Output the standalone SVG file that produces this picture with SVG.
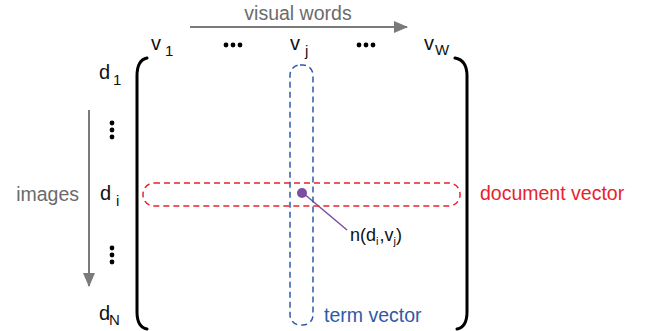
<svg xmlns="http://www.w3.org/2000/svg" width="645" height="331" viewBox="0 0 645 331">
<style>
text{font-family:"Liberation Sans",Arial,sans-serif}
.lbl{font-size:20px;fill:#111}
.sub{font-size:15px;fill:#111}
.gray{font-size:19.5px;fill:#6b6b6b}
.brk{fill:none;stroke:#000;stroke-width:3;stroke-linecap:round}
.ax{stroke:#7a7a7a;stroke-width:2;fill:none}
</style>
<defs>
<marker id="ah" markerWidth="14" markerHeight="12" refX="13" refY="6" orient="auto" markerUnits="userSpaceOnUse">
<path d="M0,0 L14,6 L0,12 Z" fill="#7a7a7a"/>
</marker>
</defs>
<g id="connectors">
<line class="ax" x1="190" y1="27" x2="407" y2="27" marker-end="url(#ah)"/>
<line class="ax" x1="89" y1="110" x2="89" y2="286" marker-end="url(#ah)"/>
<line x1="303" y1="193" x2="347" y2="230" stroke="#7b4f9f" stroke-width="1.5"/>
</g>
<g id="axis-labels">
<text class="gray" x="298" y="20" text-anchor="middle">visual words</text>
<text class="gray" x="79" y="201" text-anchor="end">images</text>
</g>
<g id="columns">
<text class="lbl" x="151" y="50">v</text><text class="sub" x="165" y="56">1</text>
<g fill="#000"><circle cx="226" cy="45" r="2.4"/><circle cx="233" cy="45" r="2.4"/><circle cx="240" cy="45" r="2.4"/></g>
<text class="lbl" x="290" y="50">v</text><text class="sub" x="305" y="56">j</text>
<g fill="#000"><circle cx="359" cy="45" r="2.4"/><circle cx="366" cy="45" r="2.4"/><circle cx="373" cy="45" r="2.4"/></g>
<text class="lbl" x="424" y="50">v</text><text class="sub" x="435" y="55">W</text>
</g>
<g id="rows">
<text class="lbl" x="99" y="79">d</text><text class="sub" x="113" y="85">1</text>
<g fill="#000"><circle cx="112" cy="123" r="2.4"/><circle cx="112" cy="130" r="2.4"/><circle cx="112" cy="137" r="2.4"/></g>
<text class="lbl" x="100" y="200">d</text><text class="sub" x="116" y="206">i</text>
<g fill="#000"><circle cx="112" cy="248" r="2.4"/><circle cx="112" cy="255" r="2.4"/><circle cx="112" cy="262" r="2.4"/></g>
<text class="lbl" x="99" y="320">d</text><text class="sub" x="109" y="325">N</text>
</g>
<g id="matrix">
<path class="brk" d="M147,58 Q137,60 137,76 L137,312 Q137,327 147,329"/>
<path class="brk" d="M455,58 Q467,60 467,76 L467,312 Q467,327 457,329"/>
</g>
<g id="document-vector">
<rect x="143" y="183" width="317" height="23" rx="11" fill="none" stroke="#e8232b" stroke-width="1.5" stroke-dasharray="6,4"/>
<text x="480" y="200" font-size="19.5" fill="#e8232b">document vector</text>
</g>
<g id="term-vector">
<rect x="290" y="65" width="23" height="260" rx="10" fill="none" stroke="#2d5aa8" stroke-width="1.5" stroke-dasharray="6,4"/>
<text x="324" y="322" font-size="19.5" fill="#2d5aa8">term vector</text>
</g>
<g id="element">
<circle cx="302" cy="193" r="5" fill="#7b4f9f"/>
<text x="350" y="241" font-size="18" fill="#111">n(d<tspan font-size="11" dy="4">i</tspan><tspan dy="-4" dx="1">,v</tspan><tspan font-size="11" dy="4">j</tspan><tspan dy="-4">)</tspan></text>
</g>
</svg>
